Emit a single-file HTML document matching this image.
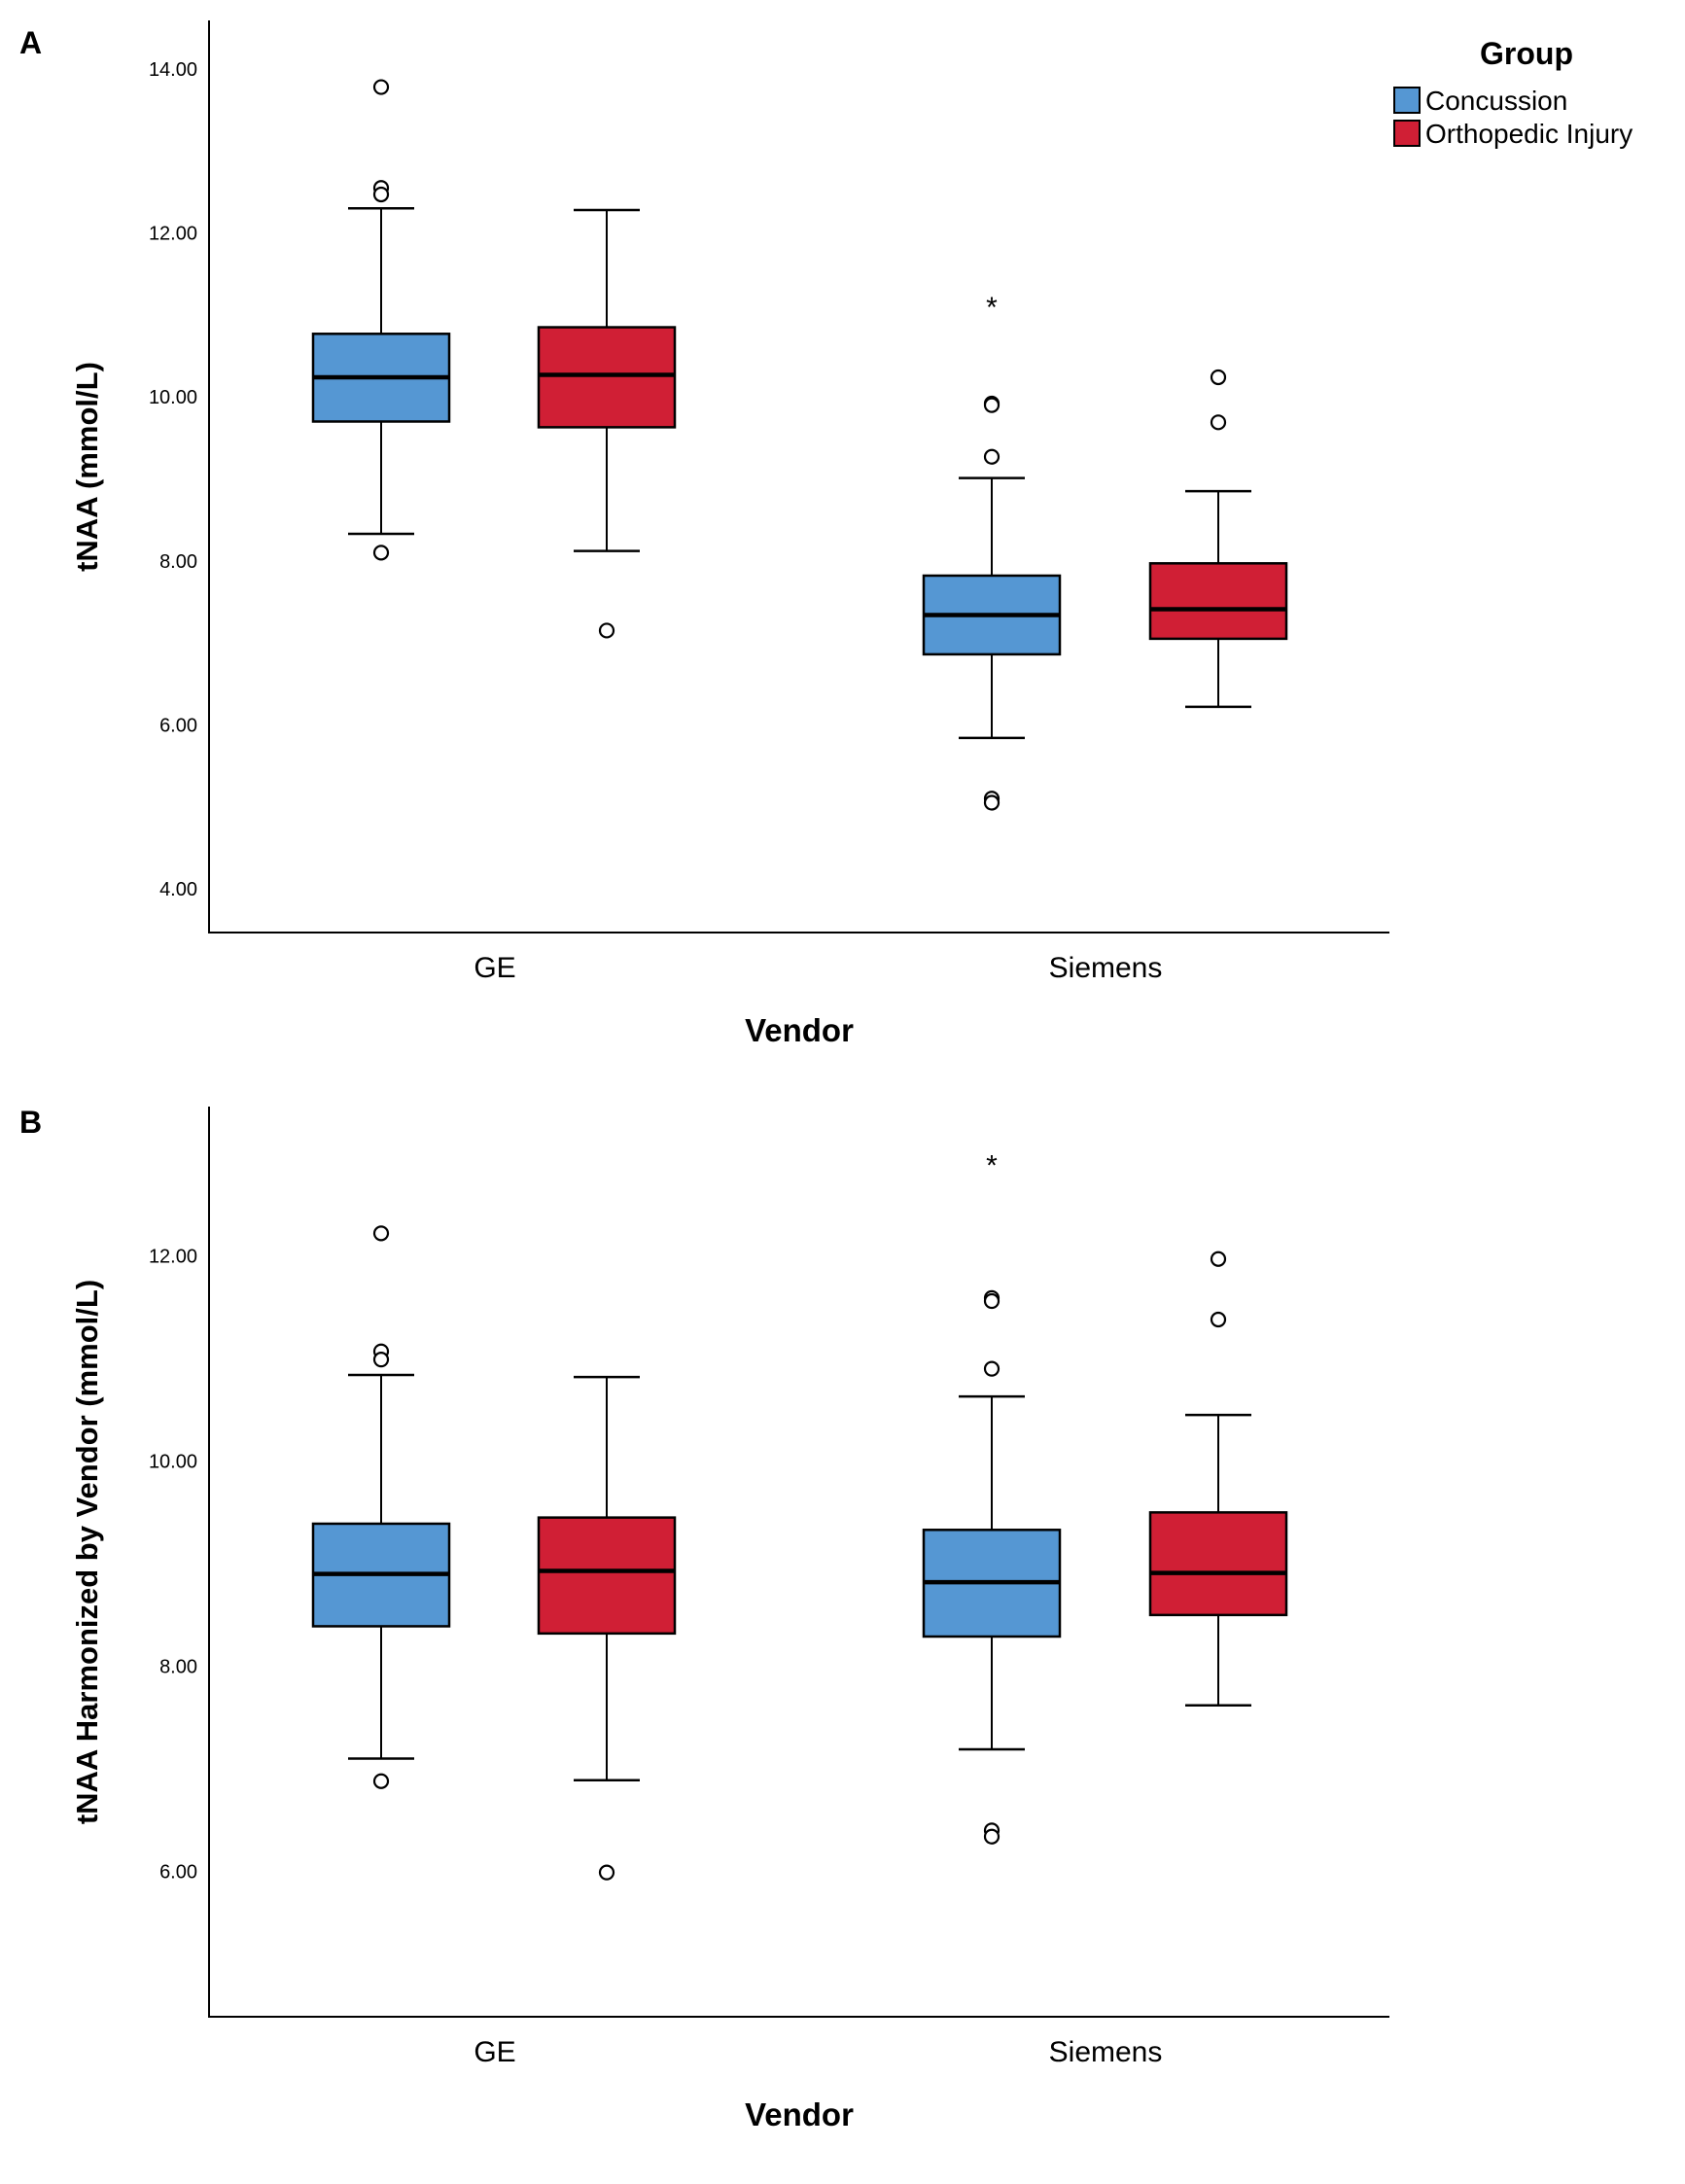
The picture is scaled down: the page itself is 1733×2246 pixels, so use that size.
<!DOCTYPE html>
<html><head><meta charset="utf-8"><style>
body{margin:0;background:#fff}
svg text{font-family:"Liberation Sans","DejaVu Sans",sans-serif}
</style></head><body>
<svg id="chart" width="1733" height="2241" viewBox="0 0 1733 2241" xmlns="http://www.w3.org/2000/svg">
</svg>
<script>
const categories = ["GE","Siemens"];
const groups = ["Concussion","Orthopedic Injury"];
const colors = ["#5597d3","#d01f35"];
// Panel A stats: [lowerWhisker, Q1, median, Q3, upperWhisker]
const statsA = [[8.33,9.70,10.24,10.77,12.30],[8.12,9.63,10.27,10.85,12.28],[5.84,6.86,7.34,7.82,9.01],[6.22,7.05,7.41,7.97,8.85]];
const outliersA = [[13.78,12.55,12.47,8.10],[7.15],[9.92,9.90,9.27,5.10,5.05],[10.24,9.69]];
const extremesA = [[],[],[11.14],[]];
const ticksA = [4,6,8,10,12,14];
const statsB = [[7.10,8.39,8.90,9.39,10.84],[6.89,8.32,8.93,9.45,10.82],[7.19,8.29,8.82,9.33,10.63],[7.62,8.50,8.91,9.50,10.45]];
const outliersB = [[12.22,11.07,10.99,6.88],[5.99],[11.59,11.56,10.90,6.40,6.34],[11.97,11.38]];
const extremesB = [[],[],[12.92],[]];
const ticksB = [6,8,10,12];

const svg=document.getElementById('chart');
const NS='http://www.w3.org/2000/svg';
function mk(tag,attrs,parent){const e=document.createElementNS(NS,tag);for(const k in attrs)e.setAttribute(k,attrs[k]);(parent||svg).appendChild(e);return e;}
const xCenters=[392,624,1020,1253];
const catX=[509,1137];

function panel(name,top,bottom,v0,y0,v1,y1,stats,outs,exts,ticks,ylabel,letter,letterY){
  const g=mk('g',{});
  
  
  const ys=v=>y0+(v-v0)*(y1-y0)/(v1-v0);
  const L=mk('text',{x:20,y:letterY,'font-size':32,'font-weight':'bold'},g);L.textContent=letter;
  
  
  const ax=mk('path',{d:`M215 ${top} V${bottom} H1429`,stroke:'#000','stroke-width':2,fill:'none'},g);
  
  
  ticks.forEach(t=>{const tx=mk('text',{x:203,y:ys(t)+7,'font-size':20,'text-anchor':'end'},g);tx.textContent=t.toFixed(2);
    
    });
  categories.forEach((c,i)=>{const tx=mk('text',{x:catX[i],y:bottom+46,'font-size':30,'text-anchor':'middle'},g);tx.textContent=c;
    
    });
  const xt=mk('text',{x:822,y:bottom+112,'font-size':33,'font-weight':'bold','text-anchor':'middle'},g);xt.textContent='Vendor';
  
  
  const yc=(top+bottom)/2;
  const yt=mk('text',{x:0,y:0,'font-size':31,'font-weight':'bold','text-anchor':'middle',transform:`translate(100 ${yc-10}) rotate(-90)`},g);yt.textContent=ylabel;
  
  
  stats.forEach((s,i)=>{
    const cx=xCenters[i];const bg=mk('g',{},g);
    
    
    mk('line',{x1:cx,x2:cx,y1:ys(s[0]),y2:ys(s[4]),stroke:'#000','stroke-width':2},bg);
    mk('line',{x1:cx-34,x2:cx+34,y1:ys(s[0]),y2:ys(s[0]),stroke:'#000','stroke-width':2.5},bg);
    mk('line',{x1:cx-34,x2:cx+34,y1:ys(s[4]),y2:ys(s[4]),stroke:'#000','stroke-width':2.5},bg);
    mk('rect',{x:cx-70,y:ys(s[3]),width:140,height:ys(s[1])-ys(s[3]),fill:colors[i%2],stroke:'#000','stroke-width':2.5},bg);
    mk('line',{x1:cx-70,x2:cx+70,y1:ys(s[2]),y2:ys(s[2]),stroke:'#000','stroke-width':4.5},bg);
    outs[i].forEach(v=>{const c=mk('circle',{cx:cx,cy:ys(v),r:7,fill:'#fff',stroke:'#000','stroke-width':2.2},bg);
      
      });
    exts[i].forEach(v=>{const t=mk('text',{x:cx,y:ys(v)+14,'font-size':30,'text-anchor':'middle'},bg);t.textContent='*';
      
      });
  });
}
panel('a',21,959,4,914,14,71,statsA,outliersA,extremesA,ticksA,'tNAA (mmol/L)','A',55);
panel('b',1138,2074,6,1924.6,12,1291.6,statsB,outliersB,extremesB,ticksB,'tNAA Harmonized by Vendor (mmol/L)','B',1165);

const lg=mk('g',{});


const lt=mk('text',{x:1570,y:66,'font-size':32,'font-weight':'bold','text-anchor':'middle'},lg);lt.textContent='Group';


groups.forEach((gname,i)=>{
  const y=90+i*34;
  const r=mk('rect',{x:1434,y:y,width:26,height:26,fill:colors[i],stroke:'#000','stroke-width':2},lg);
  
  
  const t=mk('text',{x:1466,y:y+23,'font-size':28},lg);t.textContent=gname;
  
  
});
</script>
</body></html>
